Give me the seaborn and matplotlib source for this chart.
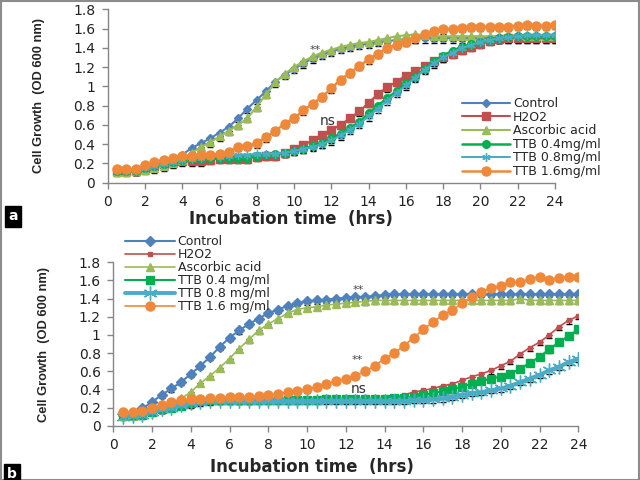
import numpy as np
import pandas as pd
import seaborn as sns
import matplotlib.pyplot as plt
from matplotlib.patches import Rectangle
from matplotlib.ticker import MultipleLocator, FuncFormatter

# Data (OD 600 nm read every 30 min)
hours = [0.5, 1.0, 1.5, 2.0, 2.5, 3.0, 3.5, 4.0, 4.5, 5.0, 5.5, 6.0,
         6.5, 7.0, 7.5, 8.0, 8.5, 9.0, 9.5, 10.0, 10.5, 11.0, 11.5, 12.0,
         12.5, 13.0, 13.5, 14.0, 14.5, 15.0, 15.5, 16.0, 16.5, 17.0, 17.5, 18.0,
         18.5, 19.0, 19.5, 20.0, 20.5, 21.0, 21.5, 22.0, 22.5, 23.0, 23.5, 24.0]

# Panel a
control_a = [0.12, 0.12, 0.13, 0.15, 0.18, 0.21, 0.25, 0.29, 0.36, 0.41, 0.46, 0.52,
             0.58, 0.67, 0.77, 0.86, 0.95, 1.05, 1.12, 1.18, 1.24, 1.29, 1.33, 1.36,
             1.39, 1.41, 1.43, 1.44, 1.46, 1.47, 1.48, 1.49, 1.50, 1.50, 1.50, 1.50,
             1.50, 1.50, 1.50, 1.50, 1.50, 1.50, 1.50, 1.50, 1.50, 1.50, 1.50, 1.50]
h2o2_a = [0.12, 0.12, 0.12, 0.15, 0.17, 0.19, 0.21, 0.22, 0.22, 0.22, 0.24, 0.25,
          0.25, 0.25, 0.25, 0.27, 0.28, 0.28, 0.31, 0.35, 0.39, 0.44, 0.50, 0.55,
          0.60, 0.67, 0.74, 0.83, 0.92, 0.99, 1.05, 1.11, 1.16, 1.21, 1.26, 1.30,
          1.34, 1.38, 1.41, 1.44, 1.47, 1.49, 1.50, 1.50, 1.50, 1.50, 1.50, 1.50]
ascorbic_a = [0.11, 0.11, 0.12, 0.13, 0.15, 0.17, 0.20, 0.24, 0.31, 0.37, 0.42, 0.48,
              0.54, 0.60, 0.67, 0.79, 0.92, 1.04, 1.13, 1.20, 1.26, 1.31, 1.35, 1.38,
              1.41, 1.43, 1.45, 1.46, 1.48, 1.50, 1.52, 1.53, 1.54, 1.53, 1.52, 1.52,
              1.52, 1.52, 1.52, 1.52, 1.52, 1.52, 1.53, 1.53, 1.52, 1.52, 1.52, 1.52]
ttb04_a = [0.12, 0.12, 0.12, 0.15, 0.17, 0.19, 0.21, 0.24, 0.25, 0.25, 0.26, 0.26,
           0.26, 0.26, 0.26, 0.28, 0.29, 0.30, 0.31, 0.33, 0.35, 0.38, 0.41, 0.46,
           0.51, 0.57, 0.63, 0.72, 0.80, 0.88, 0.95, 1.03, 1.10, 1.18, 1.26, 1.32,
           1.37, 1.41, 1.44, 1.46, 1.48, 1.50, 1.51, 1.52, 1.52, 1.52, 1.52, 1.52]
ttb08_a = [0.12, 0.12, 0.12, 0.15, 0.17, 0.19, 0.21, 0.24, 0.25, 0.26, 0.27, 0.27,
           0.28, 0.29, 0.29, 0.30, 0.30, 0.30, 0.31, 0.33, 0.35, 0.37, 0.40, 0.44,
           0.49, 0.55, 0.61, 0.69, 0.77, 0.85, 0.93, 1.01, 1.09, 1.17, 1.24, 1.30,
           1.35, 1.40, 1.43, 1.46, 1.48, 1.50, 1.51, 1.52, 1.53, 1.53, 1.53, 1.53]
ttb16_a = [0.14, 0.14, 0.14, 0.18, 0.21, 0.24, 0.26, 0.28, 0.28, 0.29, 0.29, 0.30,
           0.32, 0.37, 0.38, 0.41, 0.47, 0.54, 0.61, 0.67, 0.75, 0.82, 0.89, 0.98,
           1.07, 1.14, 1.21, 1.28, 1.34, 1.40, 1.43, 1.46, 1.50, 1.54, 1.57, 1.59,
           1.60, 1.61, 1.62, 1.62, 1.62, 1.62, 1.62, 1.63, 1.64, 1.63, 1.63, 1.64]

# Panel b
control_b = [0.12, 0.14, 0.19, 0.26, 0.34, 0.41, 0.48, 0.57, 0.66, 0.76, 0.87, 0.97,
             1.05, 1.12, 1.18, 1.24, 1.28, 1.32, 1.35, 1.37, 1.38, 1.39, 1.40, 1.41,
             1.42, 1.42, 1.43, 1.44, 1.45, 1.45, 1.45, 1.45, 1.45, 1.45, 1.45, 1.45,
             1.45, 1.45, 1.45, 1.45, 1.45, 1.45, 1.45, 1.45, 1.45, 1.45, 1.45, 1.45]
h2o2_b = [0.12, 0.12, 0.12, 0.15, 0.18, 0.20, 0.22, 0.23, 0.25, 0.26, 0.27, 0.27,
          0.27, 0.27, 0.28, 0.28, 0.28, 0.28, 0.28, 0.28, 0.28, 0.28, 0.28, 0.28,
          0.28, 0.29, 0.29, 0.29, 0.31, 0.34, 0.37, 0.39, 0.41, 0.44, 0.46, 0.50,
          0.54, 0.57, 0.61, 0.66, 0.71, 0.79, 0.86, 0.92, 1.00, 1.09, 1.16, 1.21]
ascorbic_b = [0.11, 0.11, 0.12, 0.15, 0.19, 0.23, 0.30, 0.37, 0.47, 0.55, 0.64, 0.74,
              0.85, 0.95, 1.05, 1.12, 1.18, 1.24, 1.28, 1.30, 1.31, 1.33, 1.34, 1.35,
              1.36, 1.37, 1.38, 1.38, 1.38, 1.38, 1.38, 1.38, 1.38, 1.38, 1.38, 1.38,
              1.38, 1.38, 1.38, 1.38, 1.38, 1.40, 1.38, 1.38, 1.38, 1.38, 1.38, 1.38]
ttb04_b = [0.12, 0.12, 0.12, 0.15, 0.18, 0.20, 0.22, 0.25, 0.27, 0.28, 0.28, 0.28,
           0.28, 0.28, 0.28, 0.28, 0.28, 0.28, 0.28, 0.28, 0.28, 0.29, 0.29, 0.29,
           0.29, 0.29, 0.29, 0.29, 0.30, 0.31, 0.32, 0.34, 0.36, 0.38, 0.40, 0.43,
           0.46, 0.49, 0.52, 0.54, 0.57, 0.63, 0.69, 0.76, 0.84, 0.92, 0.99, 1.06]
ttb08_b = [0.10, 0.11, 0.12, 0.15, 0.18, 0.20, 0.23, 0.25, 0.26, 0.27, 0.27, 0.27,
           0.27, 0.27, 0.27, 0.27, 0.27, 0.27, 0.27, 0.27, 0.27, 0.27, 0.27, 0.27,
           0.27, 0.27, 0.27, 0.27, 0.27, 0.27, 0.28, 0.28, 0.29, 0.30, 0.32, 0.34,
           0.36, 0.37, 0.39, 0.41, 0.44, 0.48, 0.52, 0.56, 0.61, 0.65, 0.70, 0.74]
ttb16_b = [0.15, 0.15, 0.16, 0.19, 0.23, 0.26, 0.28, 0.29, 0.29, 0.30, 0.31, 0.32,
           0.32, 0.32, 0.33, 0.34, 0.35, 0.37, 0.38, 0.40, 0.43, 0.46, 0.49, 0.52,
           0.55, 0.60, 0.66, 0.74, 0.80, 0.88, 0.97, 1.06, 1.14, 1.22, 1.27, 1.35,
           1.42, 1.47, 1.52, 1.54, 1.58, 1.58, 1.62, 1.64, 1.61, 1.63, 1.64, 1.64]

labels_a = ['Control', 'H2O2', 'Ascorbic acid', 'TTB 0.4mg/ml', 'TTB 0.8mg/ml', 'TTB 1.6mg/ml']
labels_b = ['Control', 'H2O2', 'Ascorbic acid', 'TTB 0.4 mg/ml', 'TTB 0.8 mg/ml', 'TTB 1.6 mg/ml']
err_a = 0.045
err_b = 0.035

dfA = pd.DataFrame({'hours': hours, labels_a[0]: control_a, labels_a[1]: h2o2_a,
                    labels_a[2]: ascorbic_a, labels_a[3]: ttb04_a,
                    labels_a[4]: ttb08_a, labels_a[5]: ttb16_a})
dfB = pd.DataFrame({'hours': hours, labels_b[0]: control_b, labels_b[1]: h2o2_b,
                    labels_b[2]: ascorbic_b, labels_b[3]: ttb04_b,
                    labels_b[4]: ttb08_b, labels_b[5]: ttb16_b})

# Styles
cols = ['#4F81BD', '#C0504D', '#9BBB59', '#00B050', '#4BACC6', '#F0883A']
star = (6, 2, 0)
# marker, markersize, linewidth
styA = [('D', 4.5, 1.5), ('s', 5.5, 1.5), ('^', 5.5, 1.5), ('o', 5.5, 1.8), (star, 6, 1.5), ('o', 6.5, 1.8)]
styB = [('D', 5, 1.5), ('s', 3.5, 1.2), ('^', 5.5, 1.2), ('s', 5.5, 1.5), (star, 10, 2.8), ('o', 6.5, 1.2)]
spCol = '#868686'

sns.set_style('ticks')
plt.rcParams['font.family'] = ['DejaVu Sans']

fig = plt.figure(figsize=(6.4, 4.8), dpi=100)
axA = fig.add_axes([0.1683, 0.6194, 0.6989, 0.3613])
axB = fig.add_axes([0.1770, 0.1131, 0.7266, 0.3404])


def draw_panel(ax, df, labels, sty, err):
    for lab, col, (mk, ms, lw) in zip(labels, cols, sty):
        ax.errorbar(df['hours'], df[lab], yerr=[np.full(len(df), err), np.zeros(len(df))],
                    fmt='none', ecolor='black', elinewidth=0.8, capsize=2.5, capthick=1, zorder=1.5)
        sns.lineplot(x='hours', y=lab, data=df, ax=ax, color=col, marker=mk, markersize=ms,
                     markeredgecolor=col, markeredgewidth=1.0, linewidth=lw, label=lab)
    ax.set_xlim(0, 24)
    ax.set_ylim(0, 1.8)
    ax.xaxis.set_major_locator(MultipleLocator(2))
    ax.yaxis.set_major_locator(MultipleLocator(0.2))
    ax.yaxis.set_major_formatter(FuncFormatter(lambda v, p: '{:g}'.format(round(v, 1))))
    ax.tick_params(axis='both', direction='out', length=4, width=1, color=spCol,
                   labelsize=10, labelcolor='#222222', pad=5)
    for s in ['top', 'right']:
        ax.spines[s].set_visible(False)
    for s in ['left', 'bottom']:
        ax.spines[s].set_color(spCol)
        ax.spines[s].set_linewidth(1)
    ax.set_xlabel('Incubation time  (hrs)', fontsize=12, fontweight='bold')
    ax.set_ylabel('Cell Growth  (OD 600 nm)', fontsize=9.3, fontweight='bold',
                  family=['Liberation Sans', 'DejaVu Sans'])


draw_panel(axA, dfA, labels_a, styA, err_a)
draw_panel(axB, dfB, labels_b, styB, err_b)

axA.xaxis.set_label_coords(0.41, -0.16)
axA.yaxis.set_label_coords(-0.14, 0.5)
axB.xaxis.set_label_coords(0.427, -0.195)
axB.yaxis.set_label_coords(-0.136, 0.5)

# significance marks
axA.text(11.15, 1.38, '**', fontsize=8, color='#444444', ha='center', va='center')
axA.text(11.8, 0.64, 'ns', fontsize=10, color='#333333', ha='center', va='center')
axB.text(12.66, 1.49, '**', fontsize=8, color='#444444', ha='center', va='center')
axB.text(12.6, 0.72, '**', fontsize=8, color='#444444', ha='center', va='center')
axB.text(12.66, 0.40, 'ns', fontsize=10, color='#333333', ha='center', va='center')

# legends
axA.legend(loc='upper left', bbox_to_anchor=(462 / 640, 1 - 97 / 480), bbox_transform=fig.transFigure,
           frameon=False, fontsize=9, labelspacing=0.05, handlelength=3.8, handletextpad=0.3,
           borderpad=0, borderaxespad=0)
axB.legend(loc='upper left', bbox_to_anchor=(125 / 640, 1 - 235 / 480), bbox_transform=fig.transFigure,
           frameon=False, fontsize=9, labelspacing=0.0, handlelength=4.0, handletextpad=0.2,
           borderpad=0, borderaxespad=0)

# panel tags and frame
fig.text(13 / 640, 1 - 216.5 / 480, 'a', color='white', fontsize=10, fontweight='bold', ha='center', va='center',
         bbox=dict(facecolor='black', edgecolor='black', boxstyle='square,pad=0.25'))
fig.text(12 / 640, 1 - 474 / 480, 'b', color='white', fontsize=10, fontweight='bold', ha='center', va='center',
         bbox=dict(facecolor='black', edgecolor='black', boxstyle='square,pad=0.25'))
fig.patches.append(Rectangle((0.001, 0.001), 0.997, 0.997, transform=fig.transFigure, fill=False,
                             edgecolor='#8c8c8c', linewidth=1.5))

fig.savefig('out.png', dpi=100)
